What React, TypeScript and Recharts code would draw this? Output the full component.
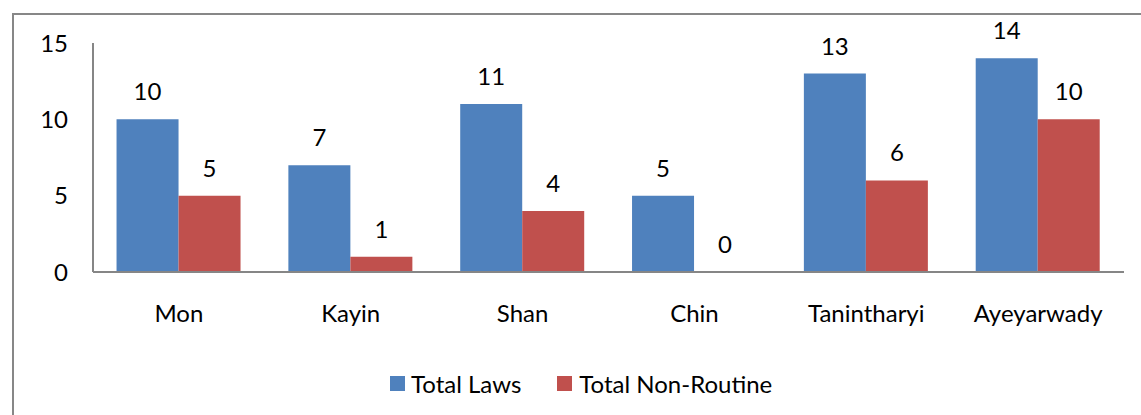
import { BarChart, Bar, XAxis, YAxis, LabelList } from 'recharts';

const regions = ['Mon', 'Kayin', 'Shan', 'Chin', 'Tanintharyi', 'Ayeyarwady'];
const totalLaws = [10, 7, 11, 5, 13, 14];
const totalNonRoutine = [5, 1, 4, 0, 6, 10];
const yTicks = [0, 5, 10, 15];

// string copies of the values so a 0 label still gets drawn
const data = regions.map((region, i) => ({
  region,
  laws: totalLaws[i],
  nonRoutine: totalNonRoutine[i],
  lawsLabel: String(totalLaws[i]),
  nonRoutineLabel: String(totalNonRoutine[i]),
}));

const FONT = 'Lato, "Open Sans", sans-serif';
const FS = 24;
const BLUE = '#4F81BD';
const RED = '#C0504D';

// a zero bar gets a hair of height, otherwise recharts drops it and its label
const keepZero = (v: number) => (v === 0 ? 0.1 : 0);

const LegendBox = () => (
  <div
    style={{
      position: 'absolute',
      top: 369,
      left: 390,
      display: 'flex',
      alignItems: 'center',
      fontFamily: FONT,
      fontSize: FS,
      color: '#000',
    }}
  >
    <span style={{ width: 15, height: 15, background: BLUE, display: 'inline-block' }} />
    <span style={{ marginLeft: 6 }}>Total Laws</span>
    <span style={{ width: 15, height: 15, background: RED, display: 'inline-block', marginLeft: 36 }} />
    <span style={{ marginLeft: 7 }}>Total Non-Routine</span>
  </div>
);

const App = () => {
  return (
    <div style={{ position: 'absolute', top: 0, left: 0, width: 1141, height: 415, overflow: 'hidden', background: '#fff' }}>
      <div
        style={{
          position: 'absolute',
          left: 12,
          top: 13,
          width: 1160,
          height: 420,
          border: '2px solid #878787',
        }}
      />
      <BarChart
        width={1141}
        height={415}
        data={data}
        margin={{ top: 43, right: 17, left: 33, bottom: 83 }}
        barCategoryGap="13.7%"
        barGap={0}
        style={{ position: 'absolute', top: 0, left: 0, fontFamily: FONT }}
      >
        <XAxis
          dataKey="region"
          axisLine={{ stroke: '#868686', strokeWidth: 2 }}
          tickLine={false}
          tickSize={0}
          tickMargin={33}
          height={60}
          tick={{ fill: '#000', fontSize: FS, fontFamily: FONT }}
        />
        <YAxis
          domain={[0, 15]}
          ticks={yTicks}
          width={60}
          axisLine={{ stroke: '#868686', strokeWidth: 2 }}
          tickLine={false}
          tickSize={0}
          tickMargin={25}
          tick={{ fill: '#000', fontSize: FS, fontFamily: FONT }}
        />
        <Bar dataKey="laws" name="Total Laws" fill={BLUE} isAnimationActive={false}>
          <LabelList dataKey="lawsLabel" position="top" offset={19} fill="#000" fontSize={FS} fontFamily={FONT} />
        </Bar>
        <Bar
          dataKey="nonRoutine"
          name="Total Non-Routine"
          fill={RED}
          minPointSize={keepZero}
          isAnimationActive={false}
        >
          <LabelList dataKey="nonRoutineLabel" position="top" offset={19} fill="#000" fontSize={FS} fontFamily={FONT} />
        </Bar>
      </BarChart>
      <LegendBox />
    </div>
  );
};

export default App;
